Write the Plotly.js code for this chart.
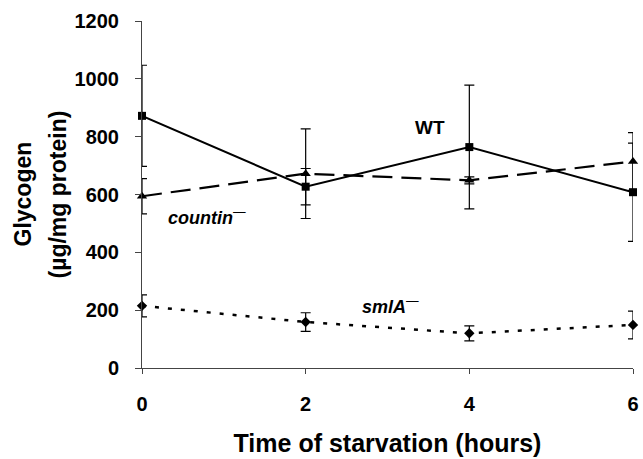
<!DOCTYPE html>
<html>
<head>
<meta charset="utf-8">
<script src="https://cdn.plot.ly/plotly-3.0.1.min.js"></script>
<style>html,body{margin:0;padding:0;background:#fff;}#chart{width:643px;height:459px;}</style>
</head>
<body>
<div id="chart"></div>
<script>
var hours = [0, 2, 4, 6];
var tickLabels = ['0', '2', '4', '6'];
var wt = [872, 627, 764, 608];
var wtErr = [175, 63, 214, 170];
var countin = [594, 672, 649, 714];
var countinErr = [61, 155, 12, 100];
var smlA = [215, 159, 120, 149];
var smlAErr = [38, 32, 26, 48];

var FONT = 'Liberation Sans, Arial, sans-serif';

function trace(y, err, dash, symbol, size, width) {
  return {
    x: hours, y: y, type: 'scatter', mode: 'lines+markers',
    line: {color: '#000', width: width, dash: dash},
    marker: {color: '#000', symbol: symbol, size: size},
    error_y: {type: 'data', array: err, visible: true, color: '#000', thickness: 1.2, width: 5},
    cliponaxis: false, showlegend: false
  };
}

var data = [
  trace(wt, wtErr, 'solid', 'square', 8, 2),
  trace(countin, countinErr, '20px,9px', 'triangle-up', 9, 2.2),
  trace(smlA, smlAErr, '4px,9px', 'diamond', 8, 2.5)
];

var layout = {
  width: 643, height: 459,
  margin: {l: 142, r: 10, t: 21, b: 91},
  paper_bgcolor: '#fff', plot_bgcolor: '#fff',
  font: {family: FONT, color: '#000'},
  xaxis: {
    range: [0, 6], tickvals: hours, ticktext: tickLabels,
    showgrid: false, zeroline: false, showline: true, linecolor: '#444', linewidth: 1,
    ticks: 'outside', ticklen: 5, tickcolor: '#444', ticklabelstandoff: 13,
    tickfont: {size: 20, family: FONT, weight: 'bold'},
    title: {text: 'Time of starvation (hours)', font: {size: 25, family: FONT, weight: 'bold'}, standoff: 20}
  },
  yaxis: {
    range: [0, 1200], dtick: 200, tick0: 0,
    showgrid: false, zeroline: false, showline: true, linecolor: '#444', linewidth: 1,
    ticks: 'outside', ticklen: 6, tickcolor: '#444', ticklabelstandoff: 12,
    tickfont: {size: 20, family: FONT, weight: 'bold'}
  },
  annotations: [
    {x: 22, y: 0.5, xref: 'paper', yref: 'paper', xanchor: 'center', yanchor: 'middle',
     text: '<b>Glycogen</b>', showarrow: false, textangle: -90, font: {size: 23, family: FONT}},
    {x: 57, y: 0.5, xref: 'paper', yref: 'paper', xanchor: 'center', yanchor: 'middle',
     text: '<b>(\u00b5g/mg protein)</b>', showarrow: false, textangle: -90, font: {size: 23, family: FONT}},
    {x: 3.52, y: 830, xref: 'x', yref: 'y', text: '<b>WT</b>', showarrow: false, font: {size: 19, family: FONT}},
    {x: 0.8, y: 525, xref: 'x', yref: 'y', text: '<b><i>countin</i></b><sup>\u2014</sup>', showarrow: false, font: {size: 18, family: FONT}},
    {x: 3.04, y: 215, xref: 'x', yref: 'y', text: '<b><i>smlA</i></b><sup>\u2014</sup>', showarrow: false, font: {size: 18, family: FONT}}
  ]
};
// convert pixel x positions of the y-title annotations to paper fraction
var plotW = layout.width - layout.margin.l - layout.margin.r;
layout.annotations[0].x = (layout.annotations[0].x - layout.margin.l) / plotW;
layout.annotations[1].x = (layout.annotations[1].x - layout.margin.l) / plotW;

Plotly.newPlot('chart', data, layout, {staticPlot: true, displayModeBar: false});
</script>
</body>
</html>
